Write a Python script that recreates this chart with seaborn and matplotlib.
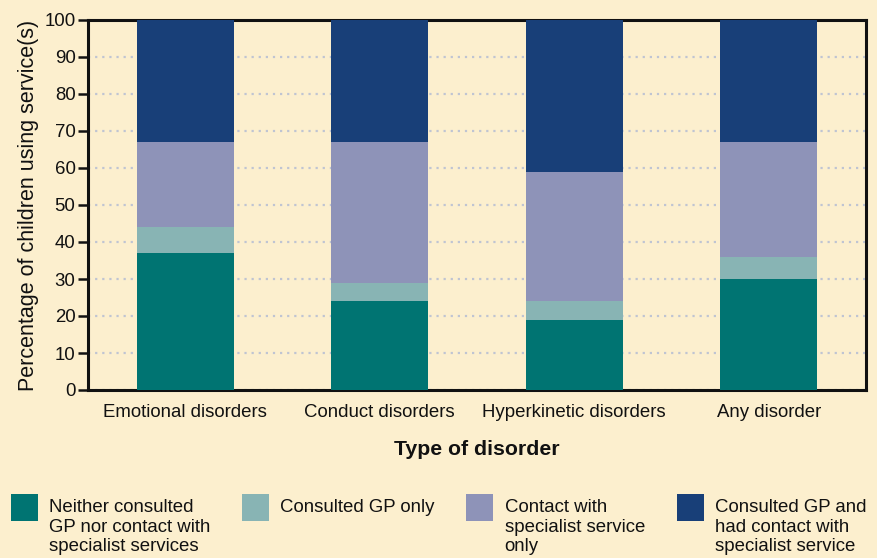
import numpy as np
import pandas as pd
import matplotlib
matplotlib.use('Agg')
import matplotlib.pyplot as plt
from matplotlib.patches import Patch, Rectangle
from matplotlib.legend_handler import HandlerPatch
import seaborn as sns

# data (percent of children in each group)
disorders = ['Emotional disorders', 'Conduct disorders', 'Hyperkinetic disorders', 'Any disorder']
neither = [37, 24, 19, 30]
gp_only = [7, 5, 5, 6]
specialist_only = [23, 38, 35, 31]
gp_and_specialist = [33, 33, 41, 33]

series_names = ['Neither consulted\nGP nor contact with\nspecialist services',
                'Consulted GP only',
                'Contact with\nspecialist service\nonly',
                'Consulted GP and\nhad contact with\nspecialist service']
colors = ['#007472', '#88B4B4', '#8E93B8', '#183F78']

bg = '#FCEFCE'

sns.set_style('ticks')
plt.rcParams['font.family'] = ['Liberation Sans', 'DejaVu Sans']
plt.rcParams['text.color'] = '#111111'
plt.rcParams['axes.labelcolor'] = '#111111'
plt.rcParams['xtick.color'] = '#111111'
plt.rcParams['ytick.color'] = '#111111'

df = pd.DataFrame({'Disorder': disorders,
                   's0': neither, 's1': gp_only, 's2': specialist_only, 's3': gp_and_specialist})
# cumulative tops for stacking
cum = df[['s0', 's1', 's2', 's3']].cumsum(axis=1)

fig = plt.figure(figsize=(8.77, 5.58), dpi=100, facecolor=bg)
ax = fig.add_axes([88/877, 168/558, 778/877, 370/558])
ax.set_facecolor(bg)

# draw tallest first so lower segments sit on top
for i in [3, 2, 1, 0]:
    sns.barplot(x=df['Disorder'], y=cum['s%d' % i], color=colors[i], width=0.5,
                linewidth=0, saturation=1, ax=ax, zorder=3)

ax.set_ylim(0, 100)
ax.set_xlim(-0.5, 3.5)
ax.set_yticks(range(0, 101, 10))
ax.yaxis.grid(True, color='#BFC4D2', linestyle=(0, (1, 2.2)), linewidth=1.6, zorder=0)
ax.set_axisbelow(True)
for s in ax.spines.values():
    s.set_visible(True)
    s.set_linewidth(2.2)
    s.set_color('#111111')
ax.tick_params(axis='y', length=7, width=1.8, pad=2, labelsize=13.4)
ax.tick_params(axis='x', length=0, pad=10, labelsize=13.4)
ax.set_ylabel('Percentage of children using service(s)', fontsize=15.5, labelpad=4)
ax.set_xlabel('Type of disorder', fontsize=15.3, fontweight='bold', labelpad=14)


# square handle sitting slightly above the first text line
def square(legend, orig_handle, xdescent, ydescent, width, height, fontsize):
    return Rectangle((-xdescent, -ydescent + 3.6), width, height)


handles = [Patch(facecolor=c, edgecolor='none') for c in colors]
leg = fig.legend(handles, series_names, loc='upper left', bbox_to_anchor=(11/877, 1 - 499/558),
                 ncol=4, frameon=False, fontsize=13.4, borderpad=0, borderaxespad=0,
                 handlelength=1.45, handleheight=1.86, handletextpad=0.6, columnspacing=1.7,
                 handler_map={Patch: HandlerPatch(patch_func=square)})
for t in leg.get_texts():
    t.set_linespacing(1.2)
# align squares to top of the text block
leg._legend_handle_box.align = 'top'
for col in leg._legend_handle_box.get_children():
    for entry in col.get_children():
        entry.align = 'top'

fig.savefig('out.png', dpi=100, facecolor=bg)
